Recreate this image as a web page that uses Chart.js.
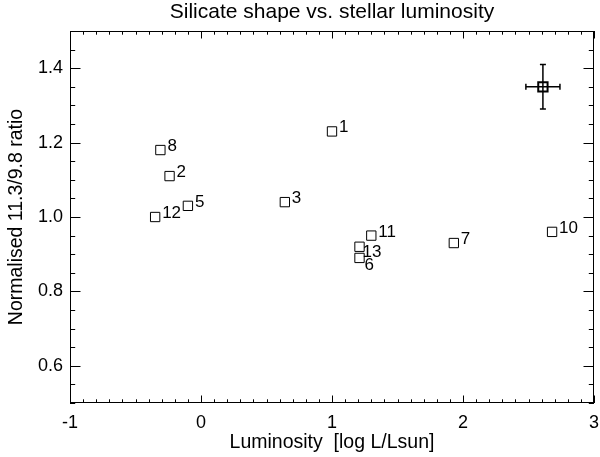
<!DOCTYPE html>
<html>
<head>
<meta charset="utf-8">
<script src="https://cdn.jsdelivr.net/npm/chart.js@4/dist/chart.umd.min.js"></script>
<style>
  html, body { margin: 0; padding: 0; background: #fff; }
  #wrap { width: 600px; height: 457px; }
</style>
</head>
<body>
<div id="wrap"><canvas id="chart"></canvas></div>
<script>
// source numbers and their positions
const starIds    = ['1', '2', '3', '5', '6', '7', '8', '10', '11', '12', '13'];
const luminosity = [1.00, -0.24, 0.64, -0.10, 1.21, 1.93, -0.31, 2.68, 1.30, -0.35, 1.21];
const ratio      = [1.23, 1.11, 1.04, 1.03, 0.89, 0.93, 1.18, 0.96, 0.95, 1.00, 0.92];

// typical error bar
const errLum = [2.61];
const errRatio = [1.35];
const errLumSize = [0.13];
const errRatioSize = [0.06];

const xTicks = [-1, 0, 1, 2, 3];
const yTicks = [0.6, 0.8, 1.0, 1.2, 1.4];

const FONT = "'Liberation Sans', Arial, Helvetica, sans-serif";

// box, inward tick marks, x tick labels, error bars and number labels
const plotExtras = {
  id: 'plotExtras',
  afterDatasetsDraw(chart) {
    const { ctx, chartArea: a, scales: { x, y } } = chart;
    ctx.save();
    ctx.strokeStyle = '#000';
    ctx.lineWidth = 1;
    ctx.strokeRect(a.left + 0.5, a.top + 0.5, a.right - a.left - 1, a.bottom - a.top - 1);

    ctx.beginPath();
    for (let i = 0; i <= 40; i++) {
      const v = -1 + i * 0.1;
      const px = Math.round(x.getPixelForValue(v)) + 0.5;
      const len = i % 10 === 0 ? 7.5 : 3.7;
      ctx.moveTo(px, a.bottom); ctx.lineTo(px, a.bottom - len);
      ctx.moveTo(px, a.top); ctx.lineTo(px, a.top + len);
    }
    for (let i = 0; i <= 20; i++) {
      const v = 0.5 + i * 0.05;
      const py = Math.round(y.getPixelForValue(v)) + 0.5;
      const len = (i % 4 === 2) ? 10.5 : 5.2;
      ctx.moveTo(a.left, py); ctx.lineTo(a.left + len, py);
      ctx.moveTo(a.right, py); ctx.lineTo(a.right - len, py);
    }
    ctx.stroke();

    // x tick labels (drawn here so the end label may hang past the frame)
    ctx.fillStyle = '#000';
    ctx.font = '18px ' + FONT;
    ctx.textAlign = 'center';
    ctx.textBaseline = 'alphabetic';
    xTicks.forEach(v => ctx.fillText(String(v), x.getPixelForValue(v), a.bottom + 25));

    // error bars
    ctx.lineWidth = 1.5;
    ctx.beginPath();
    errLum.forEach((lx, i) => {
      const cx = x.getPixelForValue(lx), cy = y.getPixelForValue(errRatio[i]);
      const x0 = x.getPixelForValue(lx - errLumSize[i]), x1 = x.getPixelForValue(lx + errLumSize[i]);
      const y0 = y.getPixelForValue(errRatio[i] - errRatioSize[i]), y1 = y.getPixelForValue(errRatio[i] + errRatioSize[i]);
      ctx.moveTo(x0, cy); ctx.lineTo(x1, cy);
      ctx.moveTo(x0, cy - 3); ctx.lineTo(x0, cy + 3);
      ctx.moveTo(x1, cy - 3); ctx.lineTo(x1, cy + 3);
      ctx.moveTo(cx, y0); ctx.lineTo(cx, y1);
      ctx.moveTo(cx - 3, y0); ctx.lineTo(cx + 3, y0);
      ctx.moveTo(cx - 3, y1); ctx.lineTo(cx + 3, y1);
    });
    ctx.stroke();

    // number labels, a couple nudged to avoid overlaps
    const nudge = { '13': [3, 10], '6': [5, 12] };
    ctx.font = '17px ' + FONT;
    ctx.textAlign = 'left';
    starIds.forEach((id, i) => {
      const px = x.getPixelForValue(luminosity[i]);
      const py = y.getPixelForValue(ratio[i]);
      const [dx, dy] = nudge[id] || [7, 1];
      ctx.fillText(id, px + dx, py + dy);
    });
    ctx.restore();
  }
};

new Chart(document.getElementById('chart'), {
  type: 'scatter',
  data: {
    datasets: [
      {
        data: luminosity.map((v, i) => ({ x: v, y: ratio[i] })),
        pointStyle: 'rect',
        pointRadius: 6.6,
        pointBorderWidth: 1,
        pointBorderColor: '#000',
        pointBackgroundColor: 'rgba(0,0,0,0)'
      },
      {
        data: errLum.map((v, i) => ({ x: v, y: errRatio[i] })),
        pointStyle: 'rect',
        pointRadius: 6.6,
        pointBorderWidth: 2,
        pointBorderColor: '#000',
        pointBackgroundColor: 'rgba(0,0,0,0)'
      }
    ]
  },
  options: {
    responsive: true,
    maintainAspectRatio: false,
    animation: false,
    layout: { autoPadding: false, padding: { left: 0, right: 6, top: 0, bottom: 0 } },
    plugins: {
      legend: { display: false },
      tooltip: { enabled: false },
      title: {
        display: true,
        fullSize: false,
        text: 'Silicate shape vs. stellar luminosity',
        color: '#000',
        font: { family: FONT, size: 21, weight: 'normal' },
        padding: { top: 0, bottom: 5.8 }
      }
    },
    scales: {
      x: {
        type: 'linear',
        min: -1,
        max: 3,
        afterBuildTicks: s => { s.ticks = xTicks.map(v => ({ value: v })); },
        afterFit: s => { s.height = 54; },
        grid: { display: false, drawTicks: false },
        border: { display: false },
        ticks: { display: false },
        title: {
          display: true,
          text: 'Luminosity  [log L/Lsun]',
          color: '#000',
          font: { family: FONT, size: 19.5 },
          padding: { top: 0, bottom: 2.5 }
        }
      },
      y: {
        type: 'linear',
        min: 0.5,
        max: 1.5,
        afterBuildTicks: s => { s.ticks = yTicks.map(v => ({ value: v })); },
        afterFit: s => { s.width = 70; },
        grid: { display: false, drawTicks: false },
        border: { display: false },
        ticks: {
          color: '#000',
          padding: 7,
          font: { family: FONT, size: 18 },
          callback: v => Number(v).toFixed(1)
        },
        title: {
          display: true,
          text: 'Normalised 11.3/9.8 ratio',
          color: '#000',
          font: { family: FONT, size: 19.5 },
          padding: { top: 5, bottom: 0 }
        }
      }
    }
  },
  plugins: [plotExtras]
});
</script>
</body>
</html>
